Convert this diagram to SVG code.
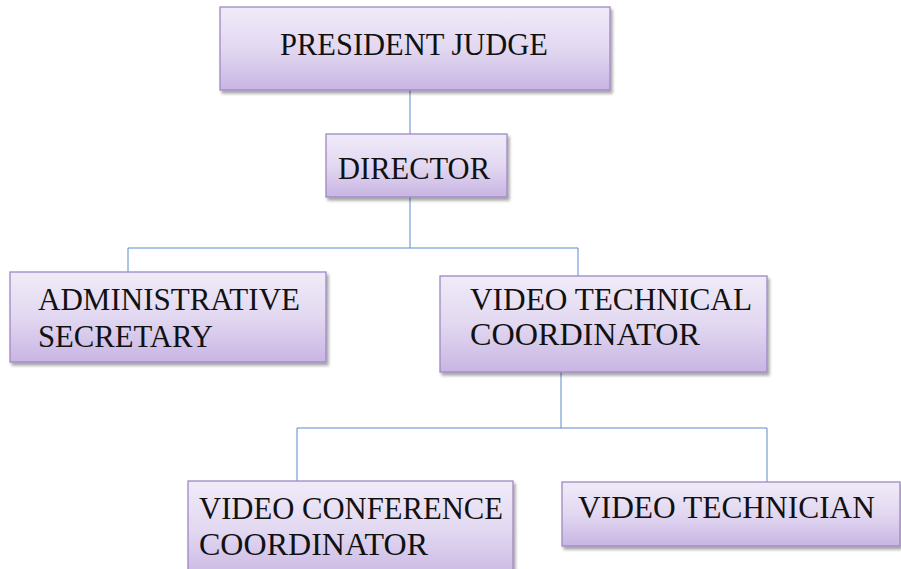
<svg xmlns="http://www.w3.org/2000/svg" width="901" height="569" viewBox="0 0 901 569">
<defs>
<linearGradient id="g" x1="0" y1="0" x2="0" y2="1">
<stop offset="0" stop-color="#F0EBF8"/>
<stop offset="0.5" stop-color="#E2D8F1"/>
<stop offset="1" stop-color="#C8B5E3"/>
</linearGradient>
<filter id="sh" x="-5%" y="-10%" width="115%" height="130%">
<feDropShadow dx="2" dy="3" stdDeviation="1.5" flood-color="#000" flood-opacity="0.35"/>
</filter>
</defs>
<style>
.box{fill:url(#g);stroke:#9E88C4;stroke-width:1.3;filter:url(#sh)}
.t{font-family:"Liberation Serif","DejaVu Serif",serif;font-size:32px;fill:#111}
.c{fill:none;stroke:#5B8ACF;stroke-width:1}
</style>
<rect width="901" height="569" fill="#fff"/>
<g id="connectors">
<path class="c" d="M410 90V134"/>
<path class="c" d="M410 197V248M128 248H578M128 248V272M578 248V276"/>
<path class="c" d="M561 372V428M297 428H767M297 428V481M767 428V482"/>
</g>
<g id="president-judge">
<rect class="box" x="220" y="7" width="390" height="83"/>
<text class="t" x="280" y="55" textLength="268" lengthAdjust="spacingAndGlyphs">PRESIDENT JUDGE</text>
</g>
<g id="director">
<rect class="box" x="326" y="134" width="181" height="63"/>
<text class="t" x="338" y="179" textLength="152" lengthAdjust="spacingAndGlyphs">DIRECTOR</text>
</g>
<g id="administrative-secretary">
<rect class="box" x="10" y="272" width="316" height="90"/>
<text class="t" x="38" y="310" textLength="262" lengthAdjust="spacingAndGlyphs">ADMINISTRATIVE</text>
<text class="t" x="38" y="347" textLength="175" lengthAdjust="spacingAndGlyphs">SECRETARY</text>
</g>
<g id="video-technical-coordinator">
<rect class="box" x="440" y="276" width="327" height="96"/>
<text class="t" x="470" y="310" textLength="282" lengthAdjust="spacingAndGlyphs">VIDEO TECHNICAL</text>
<text class="t" x="470" y="345" textLength="230" lengthAdjust="spacingAndGlyphs">COORDINATOR</text>
</g>
<g id="video-conference-coordinator">
<rect class="box" x="188" y="481" width="325" height="100"/>
<text class="t" x="199" y="519" textLength="304" lengthAdjust="spacingAndGlyphs">VIDEO CONFERENCE</text>
<text class="t" x="199" y="555" textLength="229" lengthAdjust="spacingAndGlyphs">COORDINATOR</text>
</g>
<g id="video-technician">
<rect class="box" x="562" y="482" width="338" height="64"/>
<text class="t" x="578" y="518" textLength="297" lengthAdjust="spacingAndGlyphs">VIDEO TECHNICIAN</text>
</g>
</svg>
